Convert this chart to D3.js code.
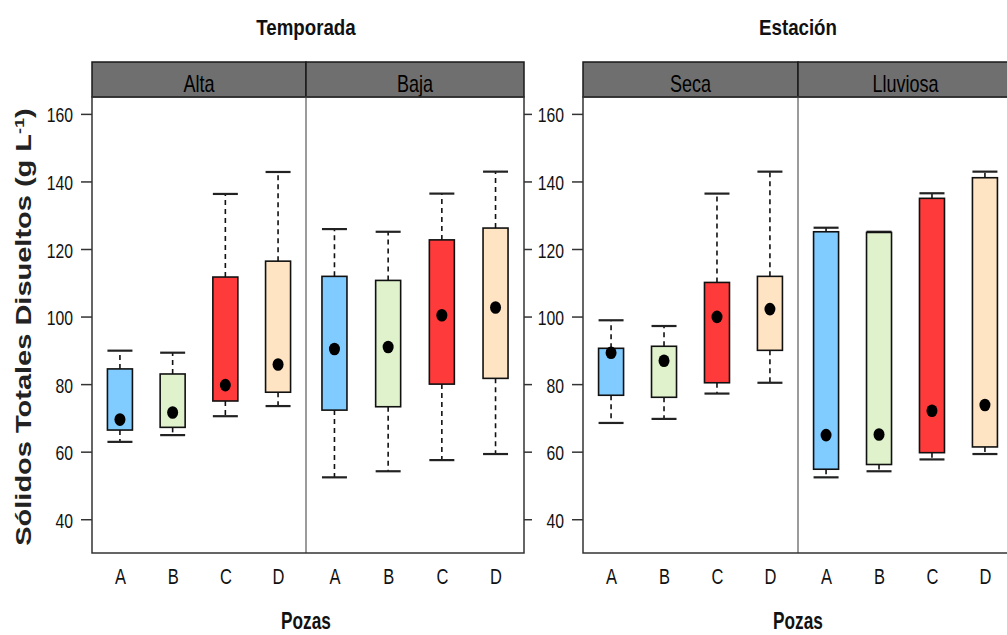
<!DOCTYPE html>
<meta charset="utf-8">
<body>
<script src="https://cdn.jsdelivr.net/npm/d3@7"></script>
<style>
    html, body {
        margin: 0;
        background: #fff;
    }
    text {
        font-family: "Liberation Sans", Arial, sans-serif;
        fill: #111;
    }
</style>
<script>
var width = 1007,
    height = 635;

var pozas = ["A", "B", "C", "D"],
    colores = ["#80cbff", "#dff2cc", "#ff3a3a", "#ffe4c4"];

// whisker low, q1, q3, whisker high, mean  (g L-1)
var alta = {low: [62.9, 64.9, 70.5, 73.5], q1: [66.4, 67.2, 75.0, 77.6], q3: [84.5, 83.0, 111.7, 116.4],
            high: [89.9, 89.3, 136.3, 142.8], mean: [69.5, 71.6, 79.7, 85.8]};
var baja = {low: [52.4, 54.2, 57.5, 59.3], q1: [72.3, 73.3, 80.0, 81.7], q3: [111.9, 110.7, 122.7, 126.2],
            high: [125.9, 125.1, 136.4, 142.9], mean: [90.4, 91.0, 100.4, 102.7]};
var seca = {low: [68.5, 69.7, 77.2, 80.4], q1: [76.7, 76.1, 80.4, 90.0], q3: [90.6, 91.2, 110.1, 111.9],
            high: [98.9, 97.2, 136.4, 142.9], mean: [89.3, 86.9, 99.9, 102.2]};
var lluviosa = {low: [52.4, 54.2, 57.7, 59.3], q1: [54.8, 56.2, 59.7, 61.4], q3: [125.1, 124.9, 135.0, 141.1],
            high: [126.3, 125.1, 136.5, 142.9], mean: [64.9, 65.1, 72.1, 73.8]};

var yTicks = [40, 60, 80, 100, 120, 140, 160];

var plots = [
    {title: "Temporada", x0: 92, x1: 524, mid: 306, panels: [{name: "Alta", d: alta}, {name: "Baja", d: baja}]},
    {title: "Estación", x0: 583, x1: 1013, mid: 798, panels: [{name: "Seca", d: seca}, {name: "Lluviosa", d: lluviosa}]}
];

var panelTop = 97, panelBottom = 553, stripTop = 62,
    sx = 0.75, boxW = 25;

var y = d3.scaleLinear().domain([30, 165]).range([panelBottom, panelTop]);

var svg = d3.select("body").append("svg")
    .attr("width", width)
    .attr("height", height);

function squeezed(g, x, yy, txt, size, weight, k) {
    return g.append("text")
        .attr("transform", "translate(" + x + "," + yy + ") scale(" + (k || sx) + ",1)")
        .attr("text-anchor", "middle")
        .style("font-size", size + "px")
        .style("font-weight", weight || "normal")
        .text(txt);
}

plots.forEach(function(p) {
    var g = svg.append("g");

    squeezed(g, p.mid, 35, p.title, 22, "bold", 0.85);
    squeezed(g, p.mid, 629, "Pozas", 23, "bold");

    var edges = [[p.x0, p.mid], [p.mid, p.x1]];

    p.panels.forEach(function(pan, k) {
        var a = edges[k][0], b = edges[k][1];
        var x = d3.scalePoint().domain(pozas).range([a, b]).padding(0.53);

        // strip
        g.append("rect")
            .attr("x", a).attr("y", stripTop)
            .attr("width", b - a).attr("height", panelTop - stripTop)
            .attr("fill", "#6f6f6f")
            .attr("stroke", "#1a1a1a")
            .attr("stroke-width", 1.5);
        squeezed(g, (a + b) / 2, 92, pan.name, 24).style("fill", "#000");

        var d = pan.d;
        var items = pozas.map(function(c, i) {
            return {c: c, low: d.low[i], q1: d.q1[i], q3: d.q3[i], high: d.high[i], mean: d.mean[i], col: colores[i]};
        });

        var box = g.selectAll(null).data(items).enter().append("g");

        // dashed whiskers
        box.append("line")
            .attr("x1", function(e) { return x(e.c); })
            .attr("x2", function(e) { return x(e.c); })
            .attr("y1", function(e) { return y(e.q3); })
            .attr("y2", function(e) { return y(e.high); })
            .attr("stroke", "#111").attr("stroke-width", 1.6).attr("stroke-dasharray", "5,4");
        box.append("line")
            .attr("x1", function(e) { return x(e.c); })
            .attr("x2", function(e) { return x(e.c); })
            .attr("y1", function(e) { return y(e.q1); })
            .attr("y2", function(e) { return y(e.low); })
            .attr("stroke", "#111").attr("stroke-width", 1.6).attr("stroke-dasharray", "5,4");

        // caps
        ["low", "high"].forEach(function(key) {
            box.append("line")
                .attr("x1", function(e) { return x(e.c) - boxW / 2; })
                .attr("x2", function(e) { return x(e.c) + boxW / 2; })
                .attr("y1", function(e) { return y(e[key]); })
                .attr("y2", function(e) { return y(e[key]); })
                .attr("stroke", "#222").attr("stroke-width", 2.2);
        });

        box.append("rect")
            .attr("x", function(e) { return x(e.c) - boxW / 2; })
            .attr("y", function(e) { return y(e.q3); })
            .attr("width", boxW)
            .attr("height", function(e) { return y(e.q1) - y(e.q3); })
            .attr("fill", function(e) { return e.col; })
            .attr("stroke", "#111").attr("stroke-width", 1.6);

        box.append("ellipse")
            .attr("cx", function(e) { return x(e.c); })
            .attr("cy", function(e) { return y(e.mean); })
            .attr("rx", 5.5).attr("ry", 6.3)
            .attr("fill", "#000");

        // x labels
        var xa = g.append("g")
            .attr("transform", "translate(0," + panelBottom + ")")
            .call(d3.axisBottom(x).tickSize(0).tickPadding(0));
        xa.select(".domain").remove();
        xa.selectAll("text")
            .attr("y", null).attr("dy", null)
            .attr("transform", "translate(0,31) scale(" + sx + ",1)")
            .style("font-size", "22px")
            .style("font-family", "Liberation Sans, Arial, sans-serif")
            .attr("fill", "#111");
    });

    // panel frame + divider
    g.append("line")
        .attr("x1", p.mid).attr("x2", p.mid).attr("y1", panelTop).attr("y2", panelBottom)
        .attr("stroke", "#7a7a7a").attr("stroke-width", 1.5);
    g.append("rect")
        .attr("x", p.x0).attr("y", panelTop)
        .attr("width", p.x1 - p.x0).attr("height", panelBottom - panelTop)
        .attr("fill", "none")
        .attr("stroke", "#333").attr("stroke-width", 1.5);

    // y axis left
    var ya = g.append("g")
        .attr("transform", "translate(" + p.x0 + ",0)")
        .call(d3.axisLeft(y).tickValues(yTicks).tickSize(11).tickPadding(0));
    ya.select(".domain").remove();
    ya.selectAll("line").attr("stroke", "#333").attr("stroke-width", 1.5);
    ya.selectAll("text")
        .attr("x", null).attr("dy", null)
        .attr("transform", "translate(-19,8) scale(" + sx + ",1)")
        .attr("text-anchor", "end")
        .style("font-size", "21px")
        .style("font-family", "Liberation Sans, Arial, sans-serif")
        .attr("fill", "#111");

    // y axis right (ticks only)
    var yr = g.append("g")
        .attr("transform", "translate(" + p.x1 + ",0)")
        .call(d3.axisRight(y).tickValues(yTicks).tickSize(8).tickFormat(""));
    yr.select(".domain").remove();
    yr.selectAll("line").attr("stroke", "#333").attr("stroke-width", 1.5);
});

// y axis title
var yt = svg.append("text")
    .attr("transform", "translate(31,327) rotate(-90) scale(1,0.75)")
    .attr("text-anchor", "middle")
    .style("font-size", "29px")
    .style("font-weight", "bold")
    .style("fill", "#222");
yt.append("tspan").text("Sólidos Totales Disueltos (g L");
yt.append("tspan").attr("baseline-shift", "super").style("font-size", "18px").text("-1");
yt.append("tspan").text(")");
</script>
